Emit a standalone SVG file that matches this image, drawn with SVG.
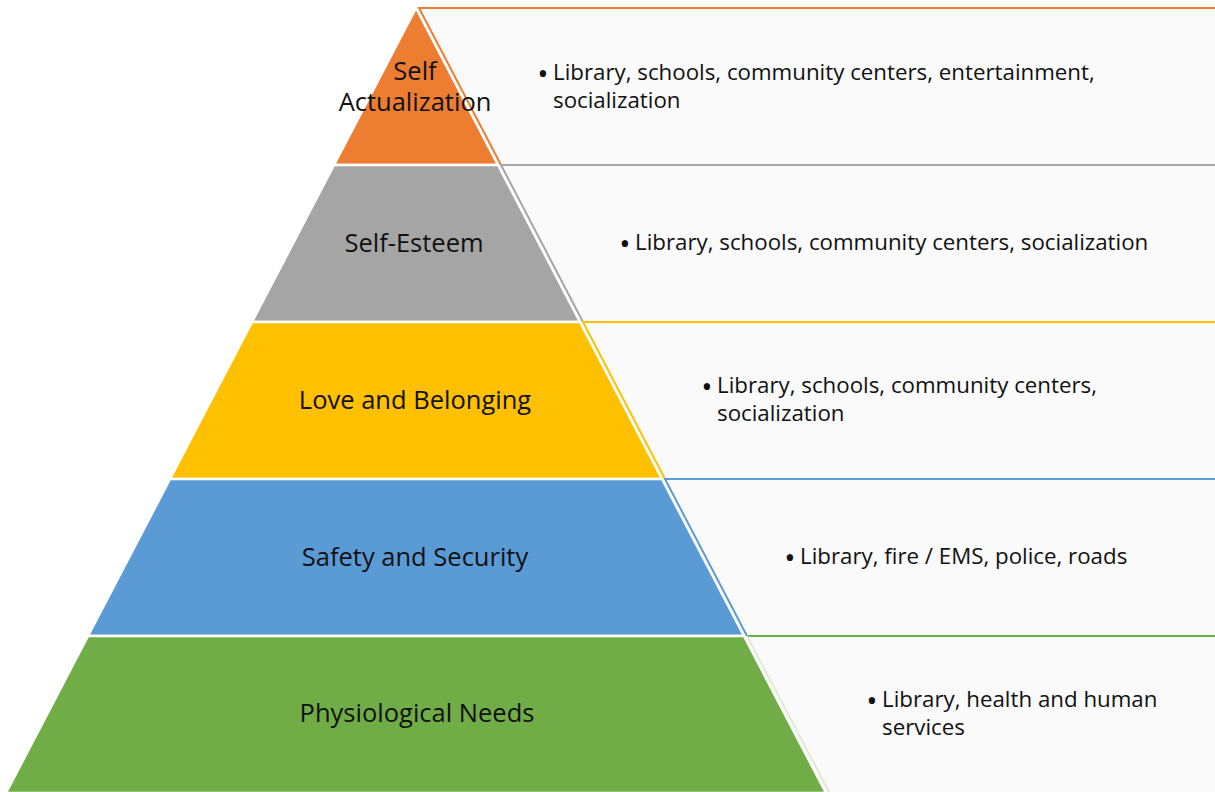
<svg xmlns="http://www.w3.org/2000/svg" width="1215" height="792" viewBox="0 0 1215 792">
<style>
.panel{fill:#FAFAFA;}
.edge{fill:none;stroke-width:2;}
.layer{stroke:#FFFFFF;stroke-width:2.5;stroke-linejoin:miter;}
.lbl{font-family:"Open Sans","Liberation Sans",sans-serif;font-size:25.5px;fill:#111;text-anchor:middle;}
.desc{font-family:"Open Sans","Liberation Sans",sans-serif;font-size:22.3px;fill:#111;}
.bul{font-family:"Open Sans","Liberation Sans",sans-serif;font-size:30px;fill:#111;text-anchor:middle;}
</style>
<rect width="1215" height="792" fill="#FFFFFF"/>
<g id="panels">
  <g id="panel-1">
    <polygon class="panel" points="419,8 1215,8 1215,165 501,165"/>
    <polyline class="edge" stroke="#ED7D31" points="1215,8 419,8 501,165"/>
  </g>
  <g id="panel-2">
    <polygon class="panel" points="501,165 1215,165 1215,322 583,322"/>
    <polyline class="edge" stroke="#A5A5A5" points="1215,165 501,165 583,322"/>
  </g>
  <g id="panel-3">
    <polygon class="panel" points="583,322 1215,322 1215,479 665,479"/>
    <polyline class="edge" stroke="#FFC000" points="1215,322 583,322 665,479"/>
  </g>
  <g id="panel-4">
    <polygon class="panel" points="665,479 1215,479 1215,636 747,636"/>
    <polyline class="edge" stroke="#5B9BD5" points="1215,479 665,479 747,636"/>
  </g>
  <g id="panel-5">
    <polygon class="panel" points="747,636 1215,636 1215,792 829,792"/>
    <polyline class="edge" stroke="#70AD47" points="1215,636 747,636"/>
    <polyline class="edge" stroke="#DCEBD2" points="747,636 829,792"/>
  </g>
</g>
<g id="pyramid">
  <g id="layer-self-actualization">
    <polygon class="layer" fill="#ED7D31" points="416,8 498,165 334,165"/>
    <text class="lbl" x="415" y="80">Self</text>
    <text class="lbl" x="415" y="111">Actualization</text>
  </g>
  <g id="layer-self-esteem">
    <polygon class="layer" fill="#A5A5A5" points="334,165 498,165 580,322 252,322"/>
    <text class="lbl" x="414" y="252">Self-Esteem</text>
  </g>
  <g id="layer-love">
    <polygon class="layer" fill="#FFC000" points="252,322 580,322 662,479 170,479"/>
    <text class="lbl" x="415" y="409">Love and Belonging</text>
  </g>
  <g id="layer-safety">
    <polygon class="layer" fill="#5B9BD5" points="170,479 662,479 744,636 88,636"/>
    <text class="lbl" x="415" y="566">Safety and Security</text>
  </g>
  <g id="layer-physiological">
    <polygon class="layer" fill="#70AD47" points="88,636 744,636 826,793 6,793"/>
    <text class="lbl" x="417" y="722">Physiological Needs</text>
  </g>
</g>
<g id="descriptions">
  <g id="desc-1">
    <text class="bul" x="543" y="84">•</text>
    <text class="desc" x="553" y="80">Library, schools, community centers, entertainment,</text>
    <text class="desc" x="553" y="108">socialization</text>
  </g>
  <g id="desc-2">
    <text class="bul" x="625" y="254">•</text>
    <text class="desc" x="635" y="250">Library, schools, community centers, socialization</text>
  </g>
  <g id="desc-3">
    <text class="bul" x="707" y="397">•</text>
    <text class="desc" x="717" y="393">Library, schools, community centers,</text>
    <text class="desc" x="717" y="421">socialization</text>
  </g>
  <g id="desc-4">
    <text class="bul" x="790" y="568">•</text>
    <text class="desc" x="800" y="564">Library, fire / EMS, police, roads</text>
  </g>
  <g id="desc-5">
    <text class="bul" x="872" y="711">•</text>
    <text class="desc" x="882" y="707">Library, health and human</text>
    <text class="desc" x="882" y="735">services</text>
  </g>
</g>
</svg>
